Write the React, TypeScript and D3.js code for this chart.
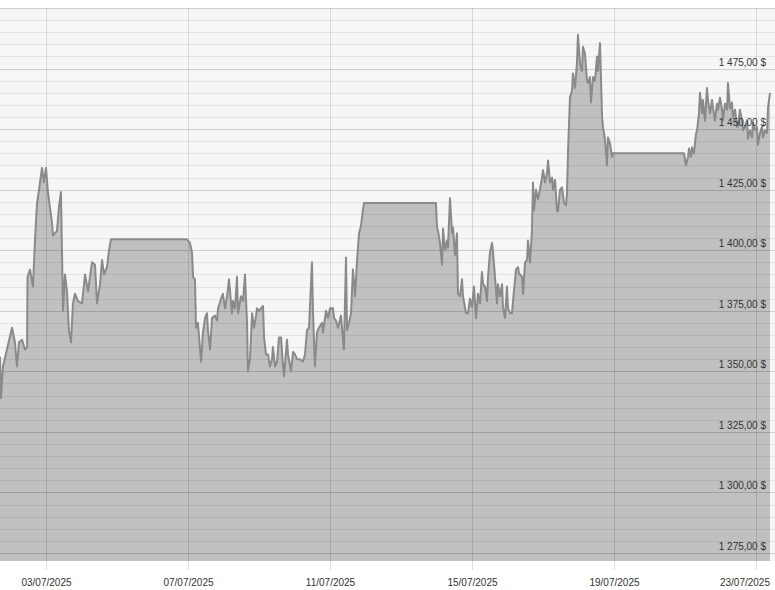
import React from 'react';
import * as d3 from 'd3';

// hours since 01/07/2025 00:00 UTC
const HOURS = [
  16.9, 17.6, 18.9, 21.6, 25.0, 27.0, 28.4, 29.7, 31.8, 33.8, 35.2, 35.5, 37.2, 39.2, 40.6, 41.9,
  43.3, 45.3, 46.6, 48.0, 49.3, 52.1, 52.7, 55.4, 56.8, 58.1, 59.5, 60.8, 62.2, 63.5, 64.9, 66.2,
  67.6, 69.6, 72.3, 74.4, 76.4, 79.1, 81.1, 82.5, 84.5, 85.9, 87.2, 89.2, 90.6, 91.9, 143.3,
  145.3, 146.7, 147.4, 148.7, 149.4, 150.7, 152.8, 154.1, 155.5, 156.8, 157.5, 158.9, 160.2, 162.2,
  163.6, 164.3, 166.3, 167.6, 169.0, 170.4, 171.7, 173.7, 174.4, 175.8, 177.1, 177.8, 179.8, 181.2,
  182.5, 183.9, 184.5, 185.9, 187.3, 188.6, 190.0, 190.6, 192.0, 193.3, 194.7, 195.4, 196.7, 198.1,
  199.4, 200.8, 201.4, 202.8, 204.2, 205.5, 206.9, 208.2, 208.9, 210.9, 211.6, 213.6, 215.0, 216.3,
  217.7, 219.7, 221.7, 223.1, 224.4, 225.8, 227.8, 228.5, 229.8, 231.2, 232.5, 234.6, 235.2, 237.3,
  238.6, 240.0, 242.0, 242.7, 244.0, 245.4, 247.4, 248.8, 249.4, 250.8, 251.5, 252.8, 254.2, 255.5,
  256.9, 258.2, 259.6, 260.9, 262.3, 263.0, 311.6,
  312.3, 313.0, 314.3, 315.7, 316.4, 317.7, 319.1, 319.7, 321.1, 322.5, 323.1, 324.5, 325.8, 326.5,
  327.9, 329.2, 329.9, 331.9, 333.3, 334.6, 336.0, 337.3, 338.7, 340.0, 341.4, 342.7, 343.4, 344.8,
  346.1, 346.8, 348.1, 349.5, 350.2, 351.5, 352.9, 353.5, 354.9, 356.3, 356.9, 358.3, 359.6, 360.3,
  361.7, 363.0, 363.7, 365.7, 367.1, 367.7, 369.8, 370.5, 371.8, 373.2, 373.8, 375.2, 376.5, 377.2,
  377.9, 379.2, 380.6, 381.9, 383.3, 384.0, 385.3, 386.7, 387.4, 388.7, 390.1, 390.7, 392.1, 393.4,
  394.1, 395.5, 396.8, 398.2, 399.5, 400.2, 400.9, 402.2, 403.6, 404.2, 405.6, 406.9, 407.6, 409.0,
  410.3, 411.0, 412.4, 413.7, 414.4, 415.7, 416.4, 417.8, 419.1, 420.5, 421.1, 422.5, 423.9, 424.5,
  425.9, 427.2, 427.9, 429.3, 430.6, 431.3, 479.3,
  480.6, 482.0, 482.7, 484.0, 484.7, 486.0, 487.4, 488.1, 489.4, 490.1, 491.5, 492.1, 493.5, 494.8,
  495.5, 496.9, 498.2, 498.9, 500.2, 501.6, 502.3, 503.6, 505.0, 505.6, 507.0, 508.4, 509.0, 510.4,
  511.7, 512.4, 513.8, 515.1, 515.8, 517.1, 518.5, 519.2, 521.9, 522.5, 523.9, 525.3, 525.9, 527.3,
  528.6, 529.3, 530.7, 532.0, 532.7, 534.0, 535.4, 536.1, 537.4,
];

const PRICES = [
  1356, 1339, 1352, 1359, 1368, 1362, 1352, 1362, 1363, 1359, 1360, 1389, 1392, 1385, 1405, 1419,
  1425, 1434, 1428, 1434, 1424, 1411, 1406, 1408, 1418, 1424, 1375, 1390, 1383, 1367, 1362, 1378,
  1382, 1379, 1378, 1390, 1383, 1395, 1394, 1378, 1386, 1396, 1390, 1393, 1400, 1404.5, 1404.5,
  1403, 1399, 1389, 1388, 1368, 1370, 1354, 1366, 1372, 1374, 1367, 1359, 1372, 1373,
  1371, 1376, 1380, 1382, 1376, 1381, 1388, 1374, 1379, 1376, 1389, 1374, 1381, 1379,
  1390, 1370, 1350, 1355, 1374, 1368, 1373, 1376, 1375, 1376, 1377, 1364, 1357, 1357,
  1352, 1355, 1360, 1352, 1354, 1364, 1364, 1352, 1348, 1363, 1357, 1350, 1358, 1357,
  1355, 1355, 1354, 1357, 1367, 1368, 1395, 1374, 1352, 1366, 1368, 1370, 1366, 1375,
  1372, 1376, 1376, 1372, 1371, 1368, 1373, 1363, 1359, 1397, 1367, 1370, 1374, 1392,
  1381, 1395, 1407, 1410, 1417, 1419.5, 1419.5,
  1409.5, 1408, 1403, 1394, 1409, 1400, 1404, 1401, 1421.5, 1407, 1409.5, 1398, 1407, 1382,
  1381, 1388, 1381, 1374, 1374, 1380, 1376.5, 1385, 1372, 1382, 1378, 1391, 1386, 1385,
  1379, 1389, 1399, 1403, 1399, 1389, 1378, 1386, 1381, 1386, 1376.5, 1372, 1385, 1376,
  1374, 1374, 1379, 1392, 1393, 1390.5, 1389, 1382, 1395, 1396, 1404, 1395, 1408, 1428,
  1416.5, 1425, 1421, 1425, 1430, 1433, 1428, 1432, 1437, 1428, 1430, 1425, 1429, 1416.5,
  1416, 1425, 1426, 1419.5, 1418.5, 1423.5, 1441, 1463, 1466, 1473, 1467, 1477, 1489, 1477,
  1474, 1484, 1481, 1470, 1469, 1471.5, 1461, 1471.5, 1470, 1480, 1474, 1485.5, 1455, 1451,
  1445.5, 1435, 1446.5, 1444, 1438.5, 1440, 1440,
  1435, 1438.5, 1442, 1438.5, 1442.5, 1440, 1448, 1449.5, 1456.5, 1465, 1456.5, 1462, 1453.5, 1467,
  1462, 1456.5, 1462, 1459, 1453.5, 1460.5, 1458, 1463, 1458, 1453.5, 1460.5, 1458, 1469, 1458.5,
  1461, 1455, 1458, 1451, 1451, 1458, 1453.5, 1449.5, 1453.5, 1446, 1449.5, 1446.5, 1452.5, 1449.5,
  1451, 1443.5, 1448.5, 1451, 1446.5, 1449.5, 1448.5, 1459, 1465,
];

const DATE_TICKS = ['2025-07-03', '2025-07-07', '2025-07-11', '2025-07-15', '2025-07-19', '2025-07-23'];
const PRICE_LABELS = [1275, 1300, 1325, 1350, 1375, 1400, 1425, 1450, 1475];
const X_START = '2025-07-01T16:54:00Z';
const X_END = '2025-07-23T12:48:00Z';
const Y_MIN = 1271.7;
const Y_MAX = 1500;

const BASE = Date.UTC(2025, 6, 1);

export default function App() {
  const width = 775;
  const height = 590;
  const top = 8;
  const bottom = 561;
  const labelRight = 770;

  const x = d3.scaleUtc()
    .domain([new Date(X_START), new Date(X_END)])
    .range([0, width]);

  const y = d3.scaleLinear()
    .domain([Y_MIN, Y_MAX])
    .range([bottom, top]);

  const data = HOURS.map((h, i) => ({ date: new Date(BASE + h * 3600000), price: PRICES[i] }));

  const area = d3.area<any>()
    .x(d => x(d.date))
    .y0(bottom)
    .y1(d => y(d.price));

  const line = d3.line<any>()
    .x(d => x(d.date))
    .y(d => y(d.price));

  const minorTicks = d3.range(1275, 1501, 5);
  const fmtPrice = d3.formatLocale({
    decimal: ',',
    thousands: '\u00a0',
    grouping: [3],
    currency: ['', '\u00a0$'],
  }).format('$,.2f');
  const fmtDate = d3.utcFormat('%d/%m/%Y');

  return (
    <svg
      width={width}
      height={height}
      style={{ position: 'absolute', left: 0, top: 0, background: '#fff' }}
      fontFamily="'Liberation Sans', Arial, sans-serif"
    >
      <rect x={0} y={top} width={width} height={bottom - top} fill="#f6f6f6" />
      <path d={area(data) ?? ''} fill="#c0c0c0" />

      {minorTicks.map(v => (
        <line
          key={v}
          x1={0}
          x2={width}
          y1={Math.round(y(v)) + 0.5}
          y2={Math.round(y(v)) + 0.5}
          stroke="#000"
          strokeOpacity={v % 25 === 0 ? 0.16 : 0.07}
        />
      ))}

      {DATE_TICKS.map(d => {
        const date = new Date(d + 'T00:00:00Z');
        const px = Math.round(x(date)) + 0.5;
        // keep the last label inside the chart, as the original does
        const clamp = px + 25 > labelRight;
        return (
          <g key={d}>
            <line x1={px} x2={px} y1={top} y2={570} stroke="#000" strokeOpacity={0.13} />
            <text
              x={clamp ? labelRight : px}
              y={586}
              textAnchor={clamp ? 'end' : 'middle'}
              fontSize={10}
              fill="#333"
            >
              {fmtDate(date)}
            </text>
          </g>
        );
      })}

      <path d={line(data) ?? ''} fill="none" stroke="#8a8a8a" strokeWidth={2} strokeLinejoin="round" />

      {PRICE_LABELS.map(v => (
        <text key={v} x={766} y={y(v) - 3} textAnchor="end" fontSize={10} fill="#333">
          {fmtPrice(v)}
        </text>
      ))}
    </svg>
  );
}
